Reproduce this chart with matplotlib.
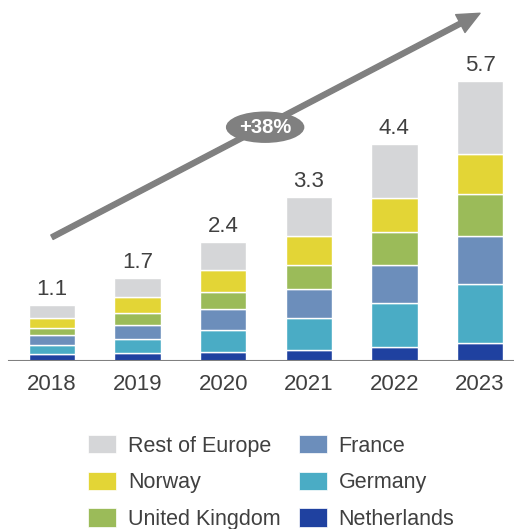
import numpy as np
import matplotlib.pyplot as plt
from matplotlib.patches import Patch

plt.rcParams['font.family'] = ['Liberation Sans', 'DejaVu Sans']

# data
years = ['2018', '2019', '2020', '2021', '2022', '2023']
totals = ['1.1', '1.7', '2.4', '3.3', '4.4', '5.7']
netherlands = [0.15, 0.16, 0.18, 0.23, 0.29, 0.37]
germany = [0.18, 0.29, 0.46, 0.65, 0.90, 1.20]
france = [0.19, 0.29, 0.41, 0.58, 0.77, 0.98]
uk = [0.15, 0.24, 0.35, 0.49, 0.66, 0.85]
norway = [0.21, 0.33, 0.45, 0.59, 0.69, 0.81]
rest = [0.26, 0.39, 0.58, 0.80, 1.11, 1.49]
growth = '+38%'

series = [('Netherlands', netherlands, '#1F41A0'),
          ('Germany', germany, '#4AACC5'),
          ('France', france, '#6C8EBB'),
          ('United Kingdom', uk, '#9BBB59'),
          ('Norway', norway, '#E3D536'),
          ('Rest of Europe', rest, '#D5D6D8')]

txt = '#404040'
fig = plt.figure(figsize=(5.14, 5.29), dpi=100)
ax = fig.add_axes([0, 168/529, 1, 361/529])

x = np.arange(len(years))
bottom = np.zeros(len(years))
for name, vals, col in series:
    ax.bar(x, vals, width=0.54, bottom=bottom, color=col,
           edgecolor='white', linewidth=1.0, label=name)
    bottom += np.array(vals)

for i, t in enumerate(totals):
    ax.annotate(t, (x[i], bottom[i]), xytext=(0, 3.5), textcoords='offset points',
                ha='center', va='bottom', fontsize=16, color=txt)

ax.set_xlim(-0.607, 5.397)
ax.set_ylim(0, 7.35)
for s in ['top', 'right', 'left', 'bottom']:
    ax.spines[s].set_visible(False)
ax.axhline(0, xmin=9/514, xmax=1, color='#808080', linewidth=1.5)
ax.set_yticks([])
ax.set_xticks(x)
ax.set_xticklabels(years, fontsize=16, color=txt)
ax.tick_params(axis='x', length=0, pad=9)

# growth arrow
ax.annotate('', xy=(5.0, 7.08), xytext=(0.0, 2.52),
            arrowprops=dict(width=3.6, headwidth=14.5, headlength=16,
                            color='#808080', shrink=0))
ax.text(2.49, 4.76, growth, ha='center', va='center', fontsize=14.5,
        fontweight='bold', color='white',
        bbox=dict(boxstyle='ellipse,pad=0.08', fc='#808080', ec='none'))

# legend
order = [5, 4, 3, 2, 1, 0]
handles = [Patch(facecolor=series[k][2], edgecolor='white', linewidth=0.5)
           for k in order]
labels = [series[k][0] for k in order]
fig.legend(handles, labels, ncol=2, loc='upper left',
           bbox_to_anchor=(88/514, 1 - 435/529), frameon=False,
           fontsize=15.5, labelcolor=txt, borderpad=0, borderaxespad=0,
           handlelength=1.3, handleheight=0.93, handletextpad=0.55,
           columnspacing=0.85, labelspacing=0.7)

fig.savefig('out.png', dpi=100)
